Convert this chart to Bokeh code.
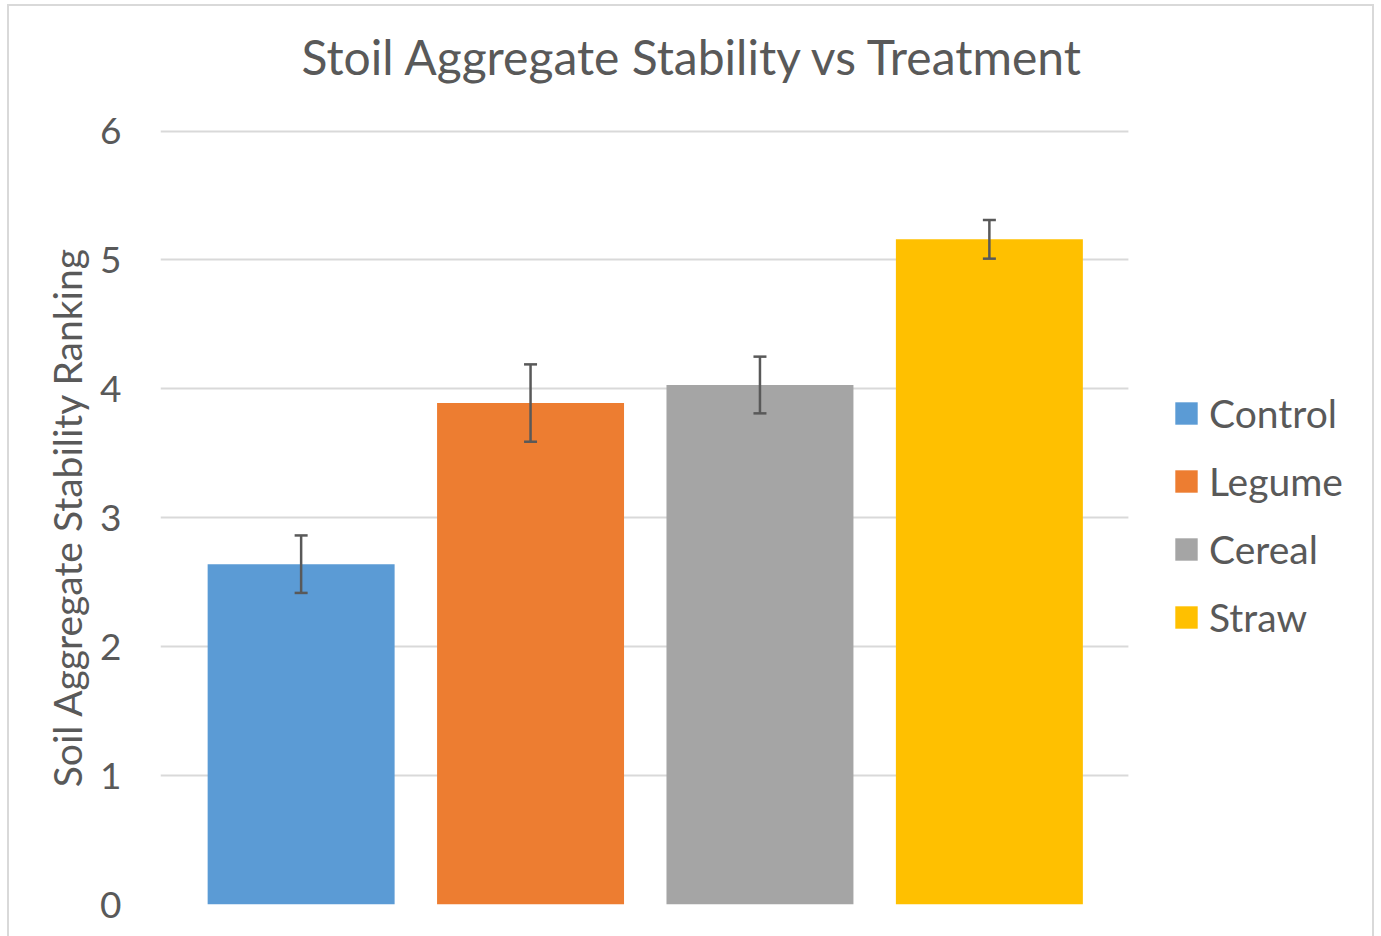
from bokeh.plotting import figure
from bokeh.models import ColumnDataSource, Whisker, TeeHead, Legend, LegendItem, SingleIntervalTicker, Title, BoxAnnotation
from bokeh.embed import file_html
from bokeh.resources import INLINE

# ---- data ----
treatments = ["Control", "Legume", "Cereal", "Straw"]
stability = [2.64, 3.89, 4.03, 5.16]
std_error = [0.223, 0.30, 0.22, 0.15]
palette = ["#5B9BD5", "#ED7D31", "#A5A5A5", "#FFC000"]

FONT = "Lato"
TXT = "#595959"

X_START, X_PLOT_END, X_CANVAS_END = 0.387, 4.606, 5.670

xpos = list(range(1, len(treatments) + 1))
src = ColumnDataSource(dict(
    x=xpos,
    top=stability,
    upper=[v + e for v, e in zip(stability, std_error)],
    lower=[v - e for v, e in zip(stability, std_error)],
    color=palette,
    name=treatments,
))

# canvas origin sits at page (9, 6) because of the css margin + border
p = figure(frame_width=1212, frame_height=775, output_backend="svg", toolbar_location=None,
           x_range=(X_START, X_CANVAS_END), y_range=(0, 6.012), title=None,
           min_border_left=151, min_border_right=0, min_border_top=123, min_border_bottom=37,
           styles={"margin-left": "7px", "margin-top": "4px", "border": "2px solid #d9d9d9"})
p.outline_line_color = None
p.background_fill_color = "white"
p.border_fill_color = "white"

bars = p.vbar(x="x", top="top", width=0.815, bottom=0, source=src, fill_color="color", line_color=None)

w = Whisker(base="x", upper="upper", lower="lower", source=src, level="overlay",
            line_color=TXT, line_width=2.5,
            upper_head=TeeHead(size=13, line_color=TXT, line_width=2.5),
            lower_head=TeeHead(size=13, line_color=TXT, line_width=2.5))
p.add_layout(w)

# white area right of the plotting region (keeps gridlines from running under the legend)
mask = BoxAnnotation(left=X_PLOT_END, fill_color="white", fill_alpha=1.0, line_color=None)
p.add_layout(mask)

items = [LegendItem(label=t, renderers=[bars], index=i) for i, t in enumerate(treatments)]
legend = Legend(items=items, location=(1012, 264), orientation="vertical",
                label_text_font=FONT, label_text_font_size="39px", label_text_color=TXT,
                glyph_width=28, glyph_height=28, label_standoff=9,
                spacing=22, padding=0, margin=0, border_line_color=None,
                background_fill_alpha=0)
p.add_layout(legend)

p.xaxis.visible = False
p.xgrid.grid_line_color = None
p.ygrid.grid_line_color = "#d9d9d9"
p.ygrid.grid_line_width = 2

ya = p.yaxis[0]
ya.ticker = SingleIntervalTicker(interval=1)
ya.axis_line_color = None
ya.major_tick_line_color = None
ya.minor_tick_line_color = None
ya.major_tick_out = 0
ya.major_tick_in = 0
ya.major_label_standoff = 35
ya.major_label_text_font = FONT
ya.major_label_text_font_size = "37px"
ya.major_label_text_color = TXT
ya.axis_label = "Soil Aggregate Stability Ranking"
ya.axis_label_text_font = FONT
ya.axis_label_text_font_size = "39px"
ya.axis_label_text_font_style = "normal"
ya.axis_label_text_color = TXT
ya.axis_label_standoff = 7

spacer = Title(text=" ", text_font_size="1px", standoff=42)
p.add_layout(spacer, "above")
main_title = Title(text="Stoil Aggregate Stability vs Treatment", align="left", offset=141,
                   text_font=FONT, text_font_size="48px", text_font_style="normal",
                   text_color=TXT, standoff=0)
p.add_layout(main_title, "above")

open("out.html", "w").write(file_html(p, INLINE))
